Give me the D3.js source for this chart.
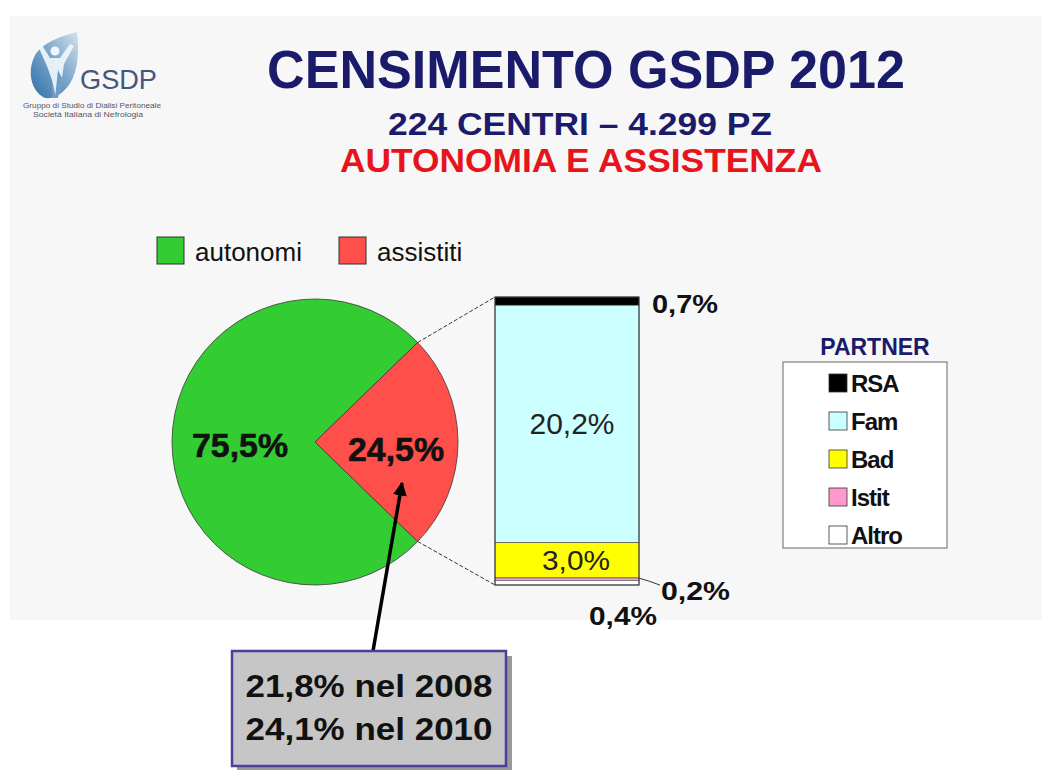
<!DOCTYPE html>
<html>
<head>
<meta charset="utf-8">
<script src="https://cdn.jsdelivr.net/npm/d3@7"></script>
<style>
body { margin: 0; background: #fff; }
text { font-family: "Liberation Sans", Arial, sans-serif; }
</style>
</head>
<body>
<div id="chart"></div>
<script>
// pie: autonomi vs assistiti
var pieLabels = ["autonomi", "assistiti"];
var pieValues = [75.5, 24.5];
var pieColors = ["#33cc33", "#ff4f4a"];

// breakdown of assistiti by partner (top to bottom in the bar)
var partnerLabels = ["RSA", "Fam", "Bad", "Istit", "Altro"];
var partnerValues = [0.7, 20.2, 3.0, 0.2, 0.4];
var partnerText = ["0,7%", "20,2%", "3,0%", "0,2%", "0,4%"];
var partnerColors = ["#000000", "#ccffff", "#ffff00", "#ff99cc", "#ffffff"];

var historyLines = ["21,8% nel 2008", "24,1% nel 2010"];

var W = 1048, H = 770;
var svg = d3.select("#chart").append("svg")
  .attr("width", W).attr("height", H);
var defs = svg.append("defs");

svg.append("rect").attr("width", W).attr("height", H).attr("fill", "#fff");
svg.append("rect").attr("x", 10).attr("y", 16).attr("width", 1032).attr("height", 604)
  .attr("fill", "#f7f7f7");

// ---- logo
var logo = svg.append("g");
var grad = defs.append("linearGradient")
  .attr("id", "leaf").attr("x1", 0).attr("y1", 1).attr("x2", 1).attr("y2", 0);
grad.append("stop").attr("offset", "0%").attr("stop-color", "#2f6fa8");
grad.append("stop").attr("offset", "55%").attr("stop-color", "#7fa9cc");
grad.append("stop").attr("offset", "100%").attr("stop-color", "#d3e3ef");
logo.append("path")
  .attr("d", "M45,98 C28,90 27,64 38,51 C48,40 63,36 77,32 C79,50 79,70 69,85 C62,94 55,99 45,98 Z")
  .attr("fill", "url(#leaf)");
// little figure with raised arms
logo.append("path")
  .attr("d", "M38,46 L42,45 L50,58 L60,58 L70,44 L74,46 L64,64 L62,78 L58,98 L52,98 L52,80 L47,66 Z")
  .attr("fill", "#f2f7fb").attr("opacity", 0.9);
logo.append("circle").attr("cx", 55).attr("cy", 51).attr("r", 4.5).attr("fill", "#f2f7fb");
logo.append("path")
  .attr("d", "M52,80 L56,98 L52,98 Z M58,70 L62,78 L58,98 L55,98 Z")
  .attr("fill", "#3f78ad").attr("opacity", 0.7);
logo.append("text").attr("x", 80).attr("y", 89).text("GSDP")
  .attr("font-size", 28).attr("fill", "#44597a")
  .attr("textLength", 77).attr("lengthAdjust", "spacingAndGlyphs");
logo.append("text").attr("x", 92).attr("y", 108).attr("text-anchor", "middle")
  .text("Gruppo di Studio di Dialisi Peritoneale")
  .attr("font-size", 6.5).attr("fill", "#556").attr("textLength", 138).attr("lengthAdjust", "spacingAndGlyphs");
logo.append("text").attr("x", 88).attr("y", 117).attr("text-anchor", "middle")
  .text("Società Italiana di Nefrologia")
  .attr("font-size", 6.5).attr("fill", "#556").attr("textLength", 110).attr("lengthAdjust", "spacingAndGlyphs");

// ---- titles
svg.append("text").attr("x", 586).attr("y", 88).attr("text-anchor", "middle")
  .text("CENSIMENTO GSDP 2012")
  .attr("font-size", 54).attr("font-weight", "bold").attr("fill", "#1b1b6b")
  .attr("textLength", 638).attr("lengthAdjust", "spacingAndGlyphs");
svg.append("text").attr("x", 580).attr("y", 135).attr("text-anchor", "middle")
  .text("224 CENTRI – 4.299 PZ")
  .attr("font-size", 32).attr("font-weight", "bold").attr("fill", "#1b1b6b")
  .attr("textLength", 384).attr("lengthAdjust", "spacingAndGlyphs");
svg.append("text").attr("x", 581).attr("y", 172).attr("text-anchor", "middle")
  .text("AUTONOMIA E ASSISTENZA")
  .attr("font-size", 34).attr("font-weight", "bold").attr("fill", "#e8141c")
  .attr("textLength", 482).attr("lengthAdjust", "spacingAndGlyphs");

// ---- top legend
var leg = svg.append("g").selectAll("g").data(pieLabels).enter().append("g")
  .attr("transform", function(d, i){ return "translate(" + (157 + i * 182) + ",237)"; });
leg.append("rect").attr("width", 27).attr("height", 27)
  .attr("fill", function(d, i){ return pieColors[i]; })
  .attr("stroke", "#333").attr("stroke-width", 1);
leg.append("text").attr("x", 38).attr("y", 24).text(function(d){ return d; })
  .attr("font-size", 26).attr("fill", "#111");

// ---- pie
var cx = 315, cy = 442, r = 143;
var total = d3.sum(pieValues);
var startA = Math.PI / 2 + Math.PI * pieValues[1] / total;
var pie = d3.pie().sort(null).startAngle(startA).endAngle(startA + 2 * Math.PI);
var arcs = pie(pieValues);
var arc = d3.arc().innerRadius(0).outerRadius(r);
var pg = svg.append("g").attr("transform", "translate(" + cx + "," + cy + ")");
pg.selectAll("path").data(arcs).enter().append("path")
  .attr("d", arc)
  .attr("fill", function(d, i){ return pieColors[i]; })
  .attr("stroke", "#3a3a3a").attr("stroke-width", 0.8);

var pieText = ["75,5%", "24,5%"];
var labelPos = [[-75, 15], [81, 19]];
pg.selectAll("text.pl").data(arcs).enter().append("text")
  .attr("x", function(d, i){ return labelPos[i][0]; })
  .attr("y", function(d, i){ return labelPos[i][1]; })
  .attr("text-anchor", "middle")
  .text(function(d, i){ return pieText[i]; })
  .attr("font-size", 33).attr("font-weight", "bold").attr("fill", "#111")
  .attr("stroke", "#111").attr("stroke-width", 0.6)
  .attr("textLength", 96).attr("lengthAdjust", "spacingAndGlyphs");

// ---- stacked bar
var barX = 495, barW = 144, barTop = 297, barBottom = 585;
var y = d3.scaleLinear().domain([0, pieValues[1]]).range([barTop, barBottom]);
var cum = 0;
var segs = partnerValues.map(function(v, i){
  var s = {y0: cum, y1: cum + v, i: i};
  cum += v;
  return s;
});
var bg = svg.append("g");
bg.selectAll("rect").data(segs).enter().append("rect")
  .attr("x", barX).attr("width", barW)
  .attr("y", function(d){ return y(d.y0); })
  .attr("height", function(d){ return y(d.y1) - y(d.y0); })
  .attr("fill", function(d){ return partnerColors[d.i]; })
  .attr("stroke", "#444").attr("stroke-width", 0.6);
bg.append("rect").attr("x", barX).attr("y", barTop).attr("width", barW)
  .attr("height", barBottom - barTop).attr("fill", "none")
  .attr("stroke", "#333").attr("stroke-width", 1);

// connector lines from the red wedge to the bar
var redArc = arcs[1];
function edge(a){ return [cx + r * Math.sin(a), cy - r * Math.cos(a)]; }
var p1 = edge(redArc.startAngle), p2 = edge(redArc.endAngle);
svg.append("line").attr("x1", p1[0]).attr("y1", p1[1]).attr("x2", barX).attr("y2", barTop)
  .attr("stroke", "#333").attr("stroke-width", 1).attr("stroke-dasharray", "4,2");
svg.append("line").attr("x1", p2[0]).attr("y1", p2[1]).attr("x2", barX).attr("y2", barBottom)
  .attr("stroke", "#333").attr("stroke-width", 1).attr("stroke-dasharray", "4,2");

// bar labels
function mid(i){ return y((segs[i].y0 + segs[i].y1) / 2); }
svg.append("text").attr("x", 572).attr("y", mid(1) + 10).attr("text-anchor", "middle")
  .text(partnerText[1]).attr("font-size", 29).attr("fill", "#222")
  .attr("textLength", 85).attr("lengthAdjust", "spacingAndGlyphs");
svg.append("text").attr("x", 576).attr("y", mid(2) + 10).attr("text-anchor", "middle")
  .text(partnerText[2]).attr("font-size", 28).attr("fill", "#222")
  .attr("textLength", 68).attr("lengthAdjust", "spacingAndGlyphs");
svg.append("text").attr("x", 652).attr("y", 313)
  .text(partnerText[0]).attr("font-size", 25).attr("font-weight", "bold").attr("fill", "#111")
  .attr("textLength", 66).attr("lengthAdjust", "spacingAndGlyphs");
svg.append("path")
  .attr("d", "M" + (barX + barW) + "," + (mid(3) - 1) + " Q650," + (mid(3) + 2) + " 660," + (mid(3) + 6))
  .attr("fill", "none").attr("stroke", "#333").attr("stroke-width", 1);
svg.append("text").attr("x", 661).attr("y", 600)
  .text(partnerText[3]).attr("font-size", 25).attr("font-weight", "bold").attr("fill", "#111")
  .attr("textLength", 69).attr("lengthAdjust", "spacingAndGlyphs");
svg.append("text").attr("x", 589).attr("y", 625)
  .text(partnerText[4]).attr("font-size", 25).attr("font-weight", "bold").attr("fill", "#111")
  .attr("textLength", 68).attr("lengthAdjust", "spacingAndGlyphs");

// ---- partner legend
svg.append("text").attr("x", 875).attr("y", 355).attr("text-anchor", "middle")
  .text("PARTNER").attr("font-size", 23).attr("font-weight", "bold").attr("fill", "#1b1b6b");
svg.append("rect").attr("x", 783).attr("y", 362).attr("width", 164).attr("height", 186)
  .attr("fill", "#fff").attr("stroke", "#666").attr("stroke-width", 1);
var pl = svg.append("g").selectAll("g").data(partnerLabels).enter().append("g")
  .attr("transform", function(d, i){ return "translate(829," + (383 + i * 38) + ")"; });
pl.append("rect").attr("x", 0).attr("y", -9).attr("width", 18).attr("height", 18)
  .attr("fill", function(d, i){ return partnerColors[i]; })
  .attr("stroke", "#333").attr("stroke-width", 0.8);
pl.append("text").attr("x", 22).attr("y", 9).text(function(d){ return d; })
  .attr("font-size", 24).attr("font-weight", "bold").attr("fill", "#111")
  .attr("letter-spacing", -1);

// ---- callout box with arrow
defs.append("marker").attr("id", "ah")
  .attr("viewBox", "0 0 10 10").attr("refX", 9).attr("refY", 5)
  .attr("markerWidth", 4).attr("markerHeight", 4).attr("orient", "auto")
  .append("path").attr("d", "M0,0 L10,5 L0,10 Z").attr("fill", "#000");
svg.append("line").attr("x1", 373).attr("y1", 651).attr("x2", 402).attr("y2", 483)
  .attr("stroke", "#000").attr("stroke-width", 3.5).attr("marker-end", "url(#ah)");

svg.append("rect").attr("x", 237).attr("y", 656).attr("width", 275).attr("height", 116)
  .attr("fill", "#9a9a9a");
svg.append("rect").attr("x", 232).attr("y", 651).attr("width", 274).attr("height", 115)
  .attr("fill", "#c6c6c6").attr("stroke", "#4b3f9a").attr("stroke-width", 2.5);
svg.append("g").selectAll("text").data(historyLines).enter().append("text")
  .attr("x", 369).attr("y", function(d, i){ return 697 + i * 43; })
  .attr("text-anchor", "middle").text(function(d){ return d; })
  .attr("font-size", 32).attr("font-weight", "bold").attr("fill", "#111")
  .attr("textLength", 247).attr("lengthAdjust", "spacingAndGlyphs");
</script>
</body>
</html>
